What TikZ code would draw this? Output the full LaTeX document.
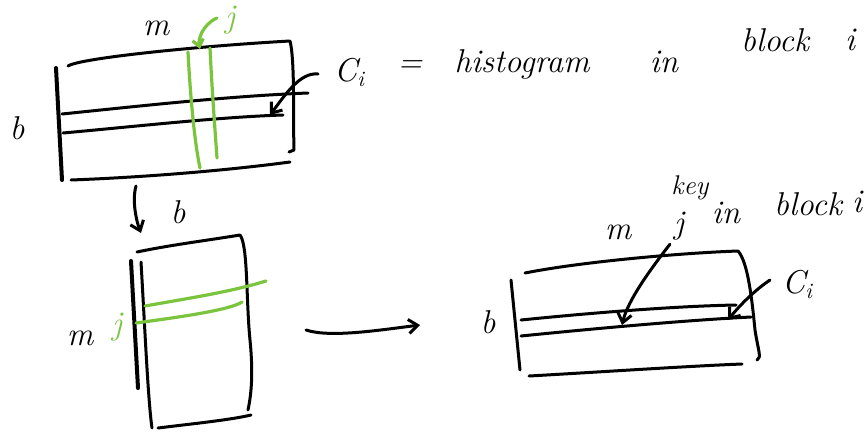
\documentclass[tikz,border=0pt]{standalone}
\usepackage{fontspec}
\setmainfont{Latin Modern Roman}
\usetikzlibrary{arrows.meta}
\definecolor{hgreen}{RGB}{122,196,62}
\newcommand{\Csub}{C\raisebox{-0.35ex}{\fontsize{22}{22}\selectfont i}}
\tikzset{
  ink/.style={line width=3pt, line cap=round, line join=round, black},
  heavy/.style={line width=4pt, line cap=round, black},
  gink/.style={line width=3.2pt, line cap=round, hgreen},
  pointer/.style={ink, -{Straight Barb[length=9pt,width=14pt]}},
  gpointer/.style={gink, -{Straight Barb[length=7pt,width=11pt]}},
  lbl/.style={inner sep=0pt, font=\fontsize{33}{35}\selectfont\itshape},
  glbl/.style={lbl, text=hgreen},
  small/.style={inner sep=0pt, font=\fontsize{27}{29}\selectfont\itshape},
}
\begin{document}
\begin{tikzpicture}[x=1pt,y=-1pt]
\useasboundingbox (0,0) rectangle (864,432);

% ---------- block at top left ----------
\draw[ink] (68,66) .. controls (80,58) and (200,46) .. (290,41)
           .. controls (295,60) and (293,120) .. (294,150) -- (289,152);
\draw[heavy] (56,68) -- (62,180);
\draw[ink] (71,180) .. controls (150,177) and (230,170) .. (290,162);
\draw[ink] (62,114) .. controls (140,106) and (230,96) .. (308,93);
\draw[ink] (63,133) .. controls (140,126) and (220,117) .. (283,115);
\draw[gink] (188,52) .. controls (190,90) and (194,140) .. (200,168);
\draw[gink] (210,48) .. controls (212,90) and (215,130) .. (217,158);

\node[lbl] (m1) at (156,28) {m};
\node[lbl] (b1) at (17,128) {b};
\node[glbl] (j1) at (230,20) {j};
\node[lbl, anchor=west] (c1) at (334,72) {\Csub};
\node[lbl] (eq) at (410,67) {=};
\node[lbl] (hist) at (522,64) {histogram};
\node[lbl] (in1) at (664,62) {in};
\node[lbl] (blk1) at (775,40) {block};
\node[lbl] (i1) at (850,40) {i};

\coordinate (j1tip) at (200,49);
\coordinate (c1tip) at (270,115);
\draw[gpointer] (j1.west) ++(-8,-2) .. controls (202,25) and (198,40) .. (j1tip);
\draw[pointer] (c1.west) ++(-16,2) .. controls (300,72) and (285,95) .. (c1tip);

% ---------- transposed block ----------
\coordinate (dtop) at (136,186);
\coordinate (dbot) at (141,233);
\draw[pointer] (dtop) .. controls (132,200) and (136,220) .. (dbot);
\node[lbl] (b2) at (178,212) {b};

\draw[ink] (137,252) .. controls (170,245) and (210,240) .. (240,235)
           .. controls (248,245) and (246,300) .. (250,340)
           .. controls (254,380) and (250,400) .. (248,410);
\draw[heavy] (131,261) -- (138,388);
\draw[ink] (141,262) .. controls (145,330) and (148,400) .. (152,428);
\draw[ink] (158,428) .. controls (190,424) and (230,420) .. (251,415);
\draw[gink] (145,306) .. controls (190,298) and (230,292) .. (266,281);
\draw[gink] (136,323) .. controls (180,317) and (230,310) .. (242,302);

\node[lbl] (m2) at (80,338) {m};
\node[glbl] (j2) at (117,327) {j};

% ---------- arrow to the keyed block ----------
\coordinate (astart) at (306,330);
\coordinate (aend) at (420,325);
\draw[pointer] (astart) .. controls (330,338) and (380,330) .. (aend);

% ---------- block at right ----------
\draw[ink] (525,273) .. controls (580,262) and (680,253) .. (738,251)
           .. controls (748,262) and (752,300) .. (755,330)
           .. controls (758,350) and (762,358) .. (757,360);
\draw[ink] (511,280) -- (520,370);
\draw[ink] (529,376) .. controls (600,372) and (690,366) .. (742,364);
\draw[ink] (521,320) .. controls (600,312) and (680,306) .. (736,305);
\draw[ink] (521,336) .. controls (600,328) and (690,320) .. (751,317);

\node[lbl] (b3) at (488,322) {b};
\node[lbl] (m3) at (618,232) {m};
\node[lbl] (j3) at (679,226) {j};
\node[small] (key) at (690,188) {key};
\node[lbl] (in3) at (726,213) {in};
\node[lbl] (blk3) at (808,204) {block};
\node[lbl] (i3) at (857,202) {i};
\node[lbl, anchor=west] (c3) at (782,284) {\Csub};

\coordinate (j3tip) at (622,325);
\coordinate (c3tip) at (728,320);
\draw[pointer] (j3.south west) ++(-4,4) .. controls (650,270) and (628,300) .. (j3tip);
\draw[pointer] (c3.west) ++(-12,-4) .. controls (755,290) and (740,305) .. (c3tip);
\end{tikzpicture}
\end{document}
